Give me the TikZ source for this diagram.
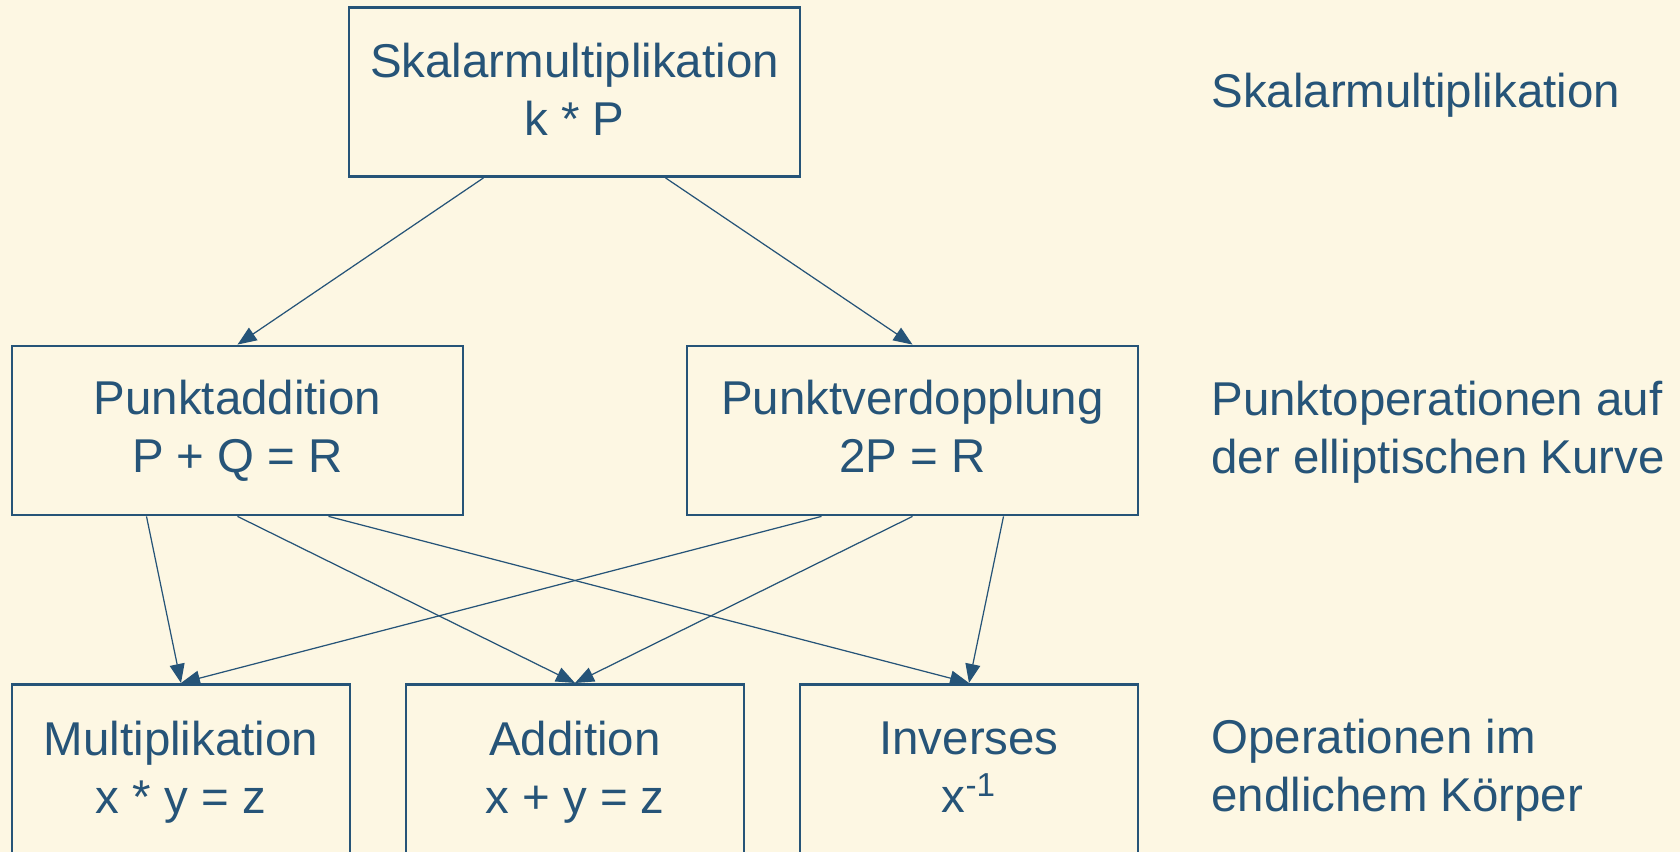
\documentclass[tikz,border=0pt]{standalone}
\usepackage{fontspec}
\setmainfont{Liberation Sans}
\usetikzlibrary{positioning, arrows.meta}
\definecolor{bgcol}{RGB}{253, 247, 227}
\definecolor{opcol}{RGB}{38, 84, 120}

\begin{document}
\begin{tikzpicture}[
      box/.style={rectangle,draw=opcol,line width=1.6pt,text=opcol,minimum width=9.02cm,minimum height=3.38cm,inner sep=0pt,align=center,font=\fontsize{27}{33}\selectfont},
      fbox/.style={box,minimum width=6.76cm,minimum height=3.5cm,anchor=north},
      lbl/.style={anchor=west,align=left,inner sep=0pt,text=opcol,font=\fontsize{27}{33}\selectfont},
      arr/.style={draw=opcol,line width=0.7pt,-{Triangle[length=0.38cm,width=0.3cm]}}]
    \fill[bgcol] (0, 0) rectangle (33.6, 17.04);
    \useasboundingbox (0, 0) rectangle (33.6, 17.04);
    \node[box]  (skal) at (11.49, 15.2)  {Skalarmultiplikation\\k * P\vphantom{,}};
    \node[box]  (padd) at (4.75, 8.43)   {Punktaddition\\P + Q = R};
    \node[box]  (pdbl) at (18.25, 8.43)  {Punktverdopplung\\2P = R\vphantom{Q}};
    \node[fbox] (mul)  at (3.62, 3.38)   {Multiplikation\\x * y = z};
    \node[fbox] (add)  at (11.5, 3.38)   {Addition\\x + y = z};
    \node[fbox] (inv)  at (19.38, 3.38)  {Inverses\\x\textsuperscript{-1}\vphantom{y}};
    \draw[arr] ([xshift=-1.82cm]skal.south) -- (padd.north);
    \draw[arr] ([xshift=1.82cm]skal.south) -- (pdbl.north);
    \draw[arr] ([xshift=-1.82cm]padd.south) -- (mul.north);
    \draw[arr] (padd.south) -- (add.north);
    \draw[arr] ([xshift=1.82cm]padd.south) -- (inv.north);
    \draw[arr] ([xshift=-1.82cm]pdbl.south) -- (mul.north);
    \draw[arr] (pdbl.south) -- (add.north);
    \draw[arr] ([xshift=1.82cm]pdbl.south) -- (inv.north);
    \node[lbl] (l1) at (24.22, 15.14)  {Skalarmultiplikation};
    \node[lbl] (l2) at (24.22, 8.4)    {Punktoperationen auf\\der elliptischen Kurve};
    \node[lbl] (l3) at (24.22, 1.63)   {Operationen im\\endlichem Körper};
  \end{tikzpicture}
\end{document}
